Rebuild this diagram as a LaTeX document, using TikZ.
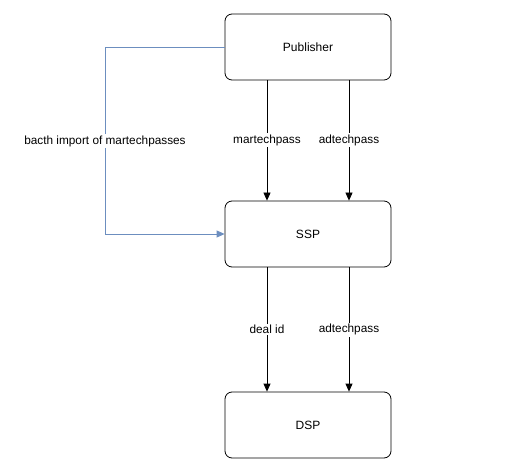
\documentclass[tikz,border=0pt]{standalone}
\usepackage{fontspec}
\setmainfont{Liberation Sans}
\usetikzlibrary{arrows.meta}
\definecolor{importblue}{RGB}{108,142,191}
\tikzset{
  box/.style={draw, rounded corners=7pt, minimum width=166pt, minimum height=66pt, line width=0.8pt, font=\fontsize{12}{14}\selectfont},
  flow/.style={-{Triangle[width=7pt,length=8pt]}, line width=0.8pt},
  lbl/.style={fill=white, inner sep=1.5pt, font=\fontsize{11.8}{14}\selectfont}
}
\begin{document}
\begin{tikzpicture}[x=1pt,y=-1pt]
\useasboundingbox (0,0) rectangle (520,468);
\node[box] (pub) at (308,47) {Publisher};
\node[box] (ssp) at (308,234) {SSP};
\node[box] (dsp) at (308,425) {DSP};
\coordinate (bend1) at (105,47);
\coordinate (bend2) at (105,234);

\draw[flow] (pub.south -| 267,0) -- (ssp.north -| 267,0) node[lbl, pos=0.5] (l1) {martechpass};
\draw[flow] (pub.south -| 349,0) -- (ssp.north -| 349,0) node[lbl, pos=0.5] (l2) {adtechpass};
\draw[flow] (ssp.south -| 267,0) -- (dsp.north -| 267,0) node[lbl, pos=0.5] (l3) {deal id};
\draw[flow] (ssp.south -| 349,0) -- (dsp.north -| 349,0) node[lbl, pos=0.5] (l4) {adtechpass};
\draw[flow, importblue] (pub.west) -- (bend1) -- (bend2) -- (ssp.west);
\node[lbl] (imp) at (105,141) {bacth import of martechpasses};
\end{tikzpicture}
\end{document}
